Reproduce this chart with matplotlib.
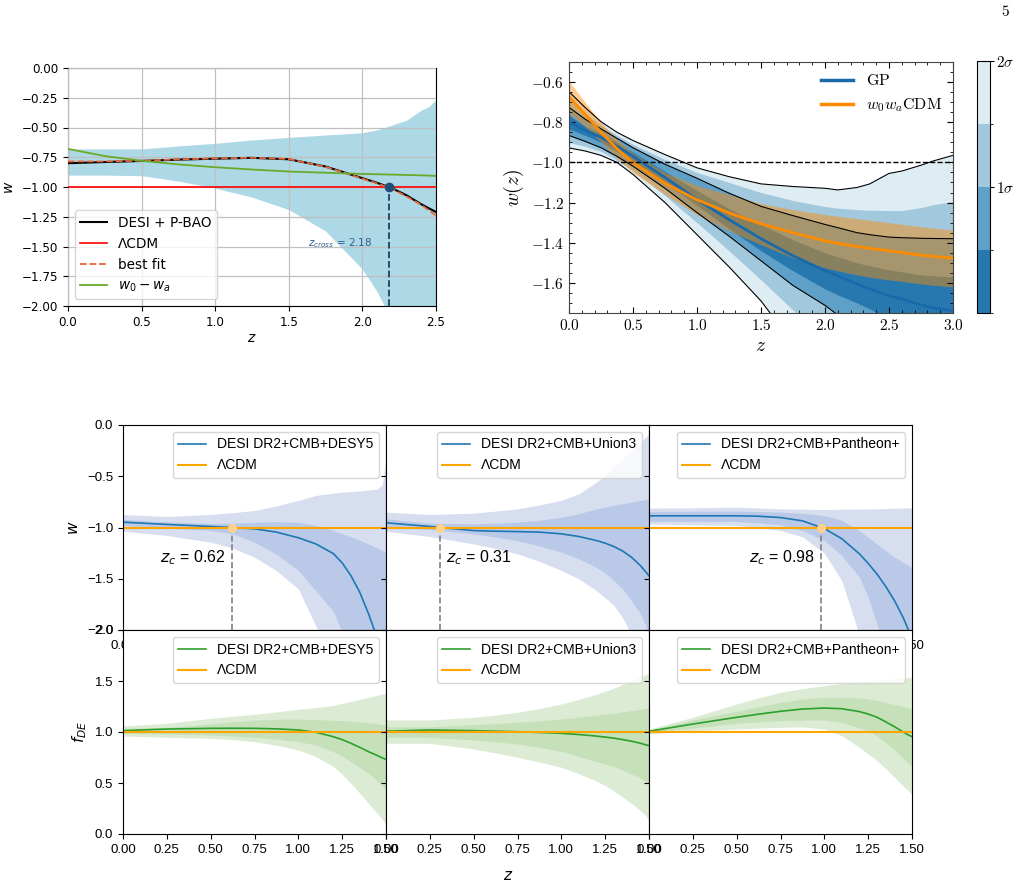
import numpy as np
import matplotlib
matplotlib.use('Agg')
import matplotlib.pyplot as plt
from matplotlib.colors import ListedColormap, BoundaryNorm
from matplotlib.cm import ScalarMappable
from matplotlib.ticker import MultipleLocator, FuncFormatter

plt.rcParams['mathtext.fontset'] = 'cm'

# ---------------- top left: DESI + P-BAO reconstruction of w(z)
z_tl = [0, 0.25, 0.5, 0.75, 1.0, 1.25, 1.5, 1.75, 2.0, 2.1, 2.2, 2.3, 2.4, 2.45, 2.5]
band_up = [-0.68, -0.68, -0.68, -0.655, -0.633, -0.605, -0.583, -0.563, -0.544, -0.52, -0.48, -0.438, -0.354, -0.326, -0.265]
band_lo = [-0.90, -0.90, -0.905, -0.95, -1.01, -1.085, -1.19, -1.37, -1.69, -1.88, -2.12, -2.3, -2.45, -2.5, -2.55]
w_desi = [-0.80, -0.79, -0.781, -0.77, -0.762, -0.755, -0.767, -0.828, -0.926, -0.965, -1.01, -1.07, -1.145, -1.178, -1.21]
w_best = [-0.785, -0.785, -0.779, -0.768, -0.76, -0.754, -0.765, -0.83, -0.93, -0.97, -1.015, -1.08, -1.15, -1.195, -1.24]
w_w0wa = [-0.68, -0.74, -0.78, -0.81, -0.834, -0.853, -0.87, -0.88, -0.89, -0.893, -0.896, -0.899, -0.902, -0.904, -0.907]
z_cross = 2.18

# ---------------- top right: GP vs w0waCDM
z_gp = [0, 0.125, 0.25, 0.375, 0.5, 0.75, 1.0, 1.25, 1.5, 1.75, 2.0, 2.1, 2.25, 2.35, 2.5, 2.6, 2.75, 2.85, 3.0]
gp_up2 = [-0.648, -0.726, -0.797, -0.85, -0.891, -0.961, -1.027, -1.071, -1.107, -1.12, -1.129, -1.137, -1.125, -1.107, -1.055, -1.043, -1.014, -0.992, -0.965]
gp_up15 = [-0.69, -0.755, -0.815, -0.865, -0.91, -0.985, -1.05, -1.10, -1.15, -1.19, -1.22, -1.228, -1.235, -1.238, -1.24, -1.24, -1.225, -1.21, -1.195]
gp_up1 = [-0.726, -0.784, -0.833, -0.88, -0.927, -1.009, -1.079, -1.153, -1.219, -1.265, -1.309, -1.325, -1.35, -1.36, -1.372, -1.375, -1.378, -1.379, -1.38]
gp_up05 = [-0.765, -0.82, -0.855, -0.90, -0.95, -1.045, -1.14, -1.23, -1.31, -1.385, -1.45, -1.47, -1.50, -1.515, -1.535, -1.545, -1.56, -1.565, -1.57]
gp_mean = [-0.80, -0.84, -0.875, -0.92, -0.97, -1.075, -1.185, -1.285, -1.38, -1.465, -1.54, -1.565, -1.605, -1.63, -1.665, -1.68, -1.71, -1.725, -1.74]
gp_lo05 = [-0.833, -0.865, -0.90, -0.945, -0.995, -1.10, -1.215, -1.33, -1.44, -1.54, -1.63, -1.66, -1.70, -1.73, -1.78, -1.80, -1.84, -1.86, -1.90]
gp_lo1 = [-0.866, -0.895, -0.927, -0.97, -1.019, -1.129, -1.25, -1.367, -1.49, -1.613, -1.712, -1.76, -1.83, -1.87, -1.94, -1.99, -2.06, -2.10, -2.17]
gp_lo15 = [-0.90, -0.92, -0.945, -0.99, -1.04, -1.165, -1.30, -1.44, -1.585, -1.735, -1.88, -1.94, -2.03, -2.08, -2.16, -2.21, -2.28, -2.32, -2.4]
gp_lo2 = [-0.928, -0.943, -0.965, -1.0, -1.06, -1.20, -1.36, -1.52, -1.69, -1.90, -2.05, -2.12, -2.2, -2.26, -2.35, -2.4, -2.5, -2.56, -2.65]
wcdm_mean = [-0.674, -0.76, -0.85, -0.932, -1.002, -1.104, -1.186, -1.252, -1.306, -1.35, -1.391, -1.403, -1.419, -1.428, -1.44, -1.449, -1.462, -1.468, -1.477]
wcdm_up = [-0.595, -0.70, -0.80, -0.885, -0.955, -1.05, -1.115, -1.16, -1.205, -1.235, -1.26, -1.268, -1.28, -1.288, -1.30, -1.308, -1.32, -1.327, -1.337]
wcdm_lo = [-0.755, -0.82, -0.90, -0.98, -1.05, -1.16, -1.26, -1.34, -1.41, -1.475, -1.525, -1.54, -1.56, -1.572, -1.585, -1.593, -1.605, -1.612, -1.62]
sigma_levels = [0, 0.5, 1, 1.5, 2]

# ---------------- bottom: three SN combinations, w(z) and f_DE(z)
z_b = [0, 0.25, 0.5, 0.625, 0.75, 0.875, 1.0, 1.1, 1.2, 1.25, 1.3, 1.35, 1.4, 1.45, 1.48, 1.5]
datasets = ['DESI DR2+CMB+DESY5', 'DESI DR2+CMB+Union3', 'DESI DR2+CMB+Pantheon+']
z_c = [0.62, 0.31, 0.98]

w_mid = [
    [-0.948, -0.97, -0.99, -1.0, -1.013, -1.045, -1.10, -1.16, -1.255, -1.345, -1.47, -1.63, -1.84, -2.08, -2.25, -2.35],
    [-0.954, -0.99, -1.03, -1.036, -1.04, -1.045, -1.062, -1.088, -1.127, -1.153, -1.186, -1.23, -1.29, -1.37, -1.43, -1.47],
    [-0.886, -0.886, -0.886, -0.89, -0.903, -0.935, -1.01, -1.11, -1.257, -1.35, -1.453, -1.575, -1.713, -1.88, -2.0, -2.08],
]
w_up2 = [
    [-0.873, -0.893, -0.873, -0.855, -0.834, -0.79, -0.736, -0.687, -0.665, -0.655, -0.65, -0.643, -0.635, -0.625, -0.58, -0.32],
    [-0.85, -0.873, -0.86, -0.84, -0.818, -0.78, -0.736, -0.671, -0.557, -0.49, -0.41, -0.33, -0.248, -0.17, -0.12, -0.085],
    [-0.811, -0.808, -0.801, -0.81, -0.818, -0.822, -0.824, -0.822, -0.82, -0.819, -0.818, -0.815, -0.812, -0.81, -0.809, -0.808],
]
w_lo2 = [
    [-1.036, -1.078, -1.143, -1.20, -1.29, -1.42, -1.60, -1.96, -2.35, -2.5, -2.65, -2.8, -2.9, -3.0, -3.0, -3.0],
    [-1.036, -1.088, -1.16, -1.205, -1.257, -1.33, -1.42, -1.50, -1.616, -1.685, -1.76, -1.88, -2.05, -2.2, -2.3, -2.4],
    [-0.964, -0.974, -0.98, -1.0, -1.03, -1.09, -1.25, -1.52, -2.05, -2.3, -2.5, -2.6, -2.8, -2.9, -3.0, -3.0],
]
w_up1 = [
    [-0.92, -0.945, -0.96, -0.958, -0.95, -0.943, -0.95, -0.98, -1.03, -1.06, -1.09, -1.125, -1.16, -1.20, -1.225, -1.24],
    [-0.915, -0.958, -0.964, -0.958, -0.948, -0.93, -0.9, -0.866, -0.818, -0.80, -0.785, -0.768, -0.752, -0.737, -0.727, -0.72],
    [-0.844, -0.842, -0.84, -0.845, -0.85, -0.862, -0.883, -0.93, -1.03, -1.095, -1.16, -1.225, -1.29, -1.34, -1.37, -1.388],
]
w_lo1 = [
    [-0.98, -1.003, -1.03, -1.06, -1.143, -1.26, -1.42, -1.616, -1.82, -2.02, -2.2, -2.4, -2.5, -2.6, -2.65, -2.7],
    [-0.987, -1.02, -1.062, -1.092, -1.127, -1.18, -1.24, -1.306, -1.388, -1.445, -1.518, -1.60, -1.713, -1.84, -1.95, -2.05],
    [-0.938, -0.94, -0.941, -0.955, -0.974, -1.03, -1.127, -1.274, -1.485, -1.68, -1.94, -2.2, -2.4, -2.6, -2.7, -2.8],
]
f_mid = [
    [1.013, 1.029, 1.036, 1.037, 1.036, 1.031, 1.02, 0.997, 0.954, 0.925, 0.889, 0.85, 0.807, 0.77, 0.745, 0.732],
    [1.007, 1.02, 1.013, 1.008, 1.003, 0.995, 0.987, 0.975, 0.96, 0.95, 0.94, 0.925, 0.91, 0.89, 0.875, 0.866],
    [1.007, 1.078, 1.144, 1.175, 1.203, 1.225, 1.235, 1.228, 1.20, 1.176, 1.145, 1.10, 1.052, 1.0, 0.97, 0.954],
]
f_up2 = [
    [1.059, 1.085, 1.134, 1.155, 1.173, 1.198, 1.222, 1.24, 1.26, 1.281, 1.30, 1.32, 1.34, 1.36, 1.372, 1.379],
    [1.118, 1.118, 1.144, 1.166, 1.193, 1.23, 1.275, 1.32, 1.37, 1.40, 1.43, 1.465, 1.50, 1.54, 1.56, 1.575],
    [1.029, 1.144, 1.275, 1.335, 1.389, 1.425, 1.454, 1.475, 1.492, 1.50, 1.508, 1.515, 1.522, 1.53, 1.534, 1.536],
]
f_lo2 = [
    [0.961, 0.948, 0.938, 0.925, 0.905, 0.87, 0.824, 0.758, 0.66, 0.585, 0.497, 0.40, 0.30, 0.20, 0.14, 0.098],
    [0.889, 0.889, 0.833, 0.795, 0.752, 0.705, 0.654, 0.59, 0.52, 0.475, 0.42, 0.36, 0.30, 0.23, 0.18, 0.137],
    [0.98, 1.013, 1.029, 1.038, 1.046, 1.05, 1.029, 0.964, 0.85, 0.784, 0.72, 0.64, 0.556, 0.47, 0.42, 0.386],
]
f_up1 = [
    [1.036, 1.046, 1.078, 1.10, 1.118, 1.125, 1.127, 1.122, 1.115, 1.111, 1.105, 1.098, 1.09, 1.08, 1.073, 1.069],
    [1.052, 1.052, 1.072, 1.083, 1.095, 1.11, 1.127, 1.145, 1.165, 1.175, 1.185, 1.197, 1.21, 1.222, 1.23, 1.235],
    [1.02, 1.118, 1.203, 1.248, 1.291, 1.322, 1.34, 1.34, 1.335, 1.325, 1.31, 1.29, 1.27, 1.25, 1.24, 1.235],
]
f_lo1 = [
    [0.987, 0.98, 0.971, 0.962, 0.948, 0.93, 0.905, 0.873, 0.807, 0.762, 0.709, 0.655, 0.595, 0.52, 0.47, 0.431],
    [0.948, 0.948, 0.922, 0.903, 0.882, 0.848, 0.81, 0.76, 0.71, 0.685, 0.66, 0.625, 0.59, 0.55, 0.515, 0.49],
    [0.993, 1.039, 1.085, 1.10, 1.111, 1.117, 1.118, 1.095, 1.04, 1.013, 0.96, 0.895, 0.824, 0.74, 0.69, 0.66],
]

W, H = 1019, 890
fig = plt.figure(figsize=(W / 100, H / 100), dpi=100)


def px_axes(x0, y0, x1, y1):
    # axes placed by pixel box on the page
    return fig.add_axes([x0 / W, 1 - y1 / H, (x1 - x0) / W, (y1 - y0) / H])


SANS_MATH = 'dejavusans'

# ===== top left
ax = px_axes(68, 68, 436, 306)
ax.fill_between(z_tl, band_lo, band_up, color='lightblue', lw=0)
ax.plot(z_tl, w_desi, color='black', lw=1.5, label='DESI + P-BAO', zorder=3)
ax.axhline(-1, color='red', lw=1.2, label='ΛCDM', zorder=3)
ax.plot(z_tl, w_best, '--', color='#e8663a', lw=1.3, label='best fit', zorder=3)
ax.plot(z_tl, w_w0wa, color='#6aaa2a', lw=1.3, label='$w_0 - w_a$', zorder=3)
ax.vlines(z_cross, -2.0, -1.0, colors='#1f3f5f', linestyles='--', lw=1.3, zorder=3)
ax.plot(z_cross, -1.0, 'o', color='#1f4e79', ms=6, zorder=4)
t = ax.text(1.63, -1.47, '$z_{cross}$ = 2.18', color='#2f5f8f', fontsize=7.5, va='center')
t.set_math_fontfamily(SANS_MATH)
ax.set_xlim(0, 2.5)
ax.set_ylim(-2.0, 0.0)
ax.set_xticks(np.arange(0, 2.51, 0.5))
ax.set_yticks(np.arange(-2.0, 0.01, 0.25))
ax.set_axisbelow(False)
ax.grid(color='#c0c0c0', lw=0.9)
ax.tick_params(labelsize=8.6)
xl = ax.set_xlabel('$z$', fontsize=10, labelpad=2)
yl = ax.set_ylabel('$w$', fontsize=10)
xl.set_math_fontfamily(SANS_MATH)
yl.set_math_fontfamily(SANS_MATH)
leg = ax.legend(loc='lower left', fontsize=9.8)
for tx in leg.get_texts():
    tx.set_math_fontfamily(SANS_MATH)

# ===== top right
ax2 = px_axes(569, 62, 953, 313)
blues = ['#deecf3', '#a2c8dd', '#5fa0c8', '#2878b0']
ax2.fill_between(z_gp, gp_lo2, gp_up2, color=blues[0], lw=0)
ax2.fill_between(z_gp, gp_lo15, gp_up15, color=blues[1], lw=0)
ax2.fill_between(z_gp, gp_lo1, gp_up1, color=blues[2], lw=0)
ax2.fill_between(z_gp, gp_lo05, gp_up05, color=blues[3], lw=0)
for curve in [gp_up2, gp_lo2, gp_up1, gp_lo1]:
    ax2.plot(z_gp, curve, color='black', lw=0.8)
ax2.plot(z_gp, gp_mean, color='#1a6aab', lw=2, label=r'$\mathrm{GP}$')
ax2.fill_between(z_gp, wcdm_lo, wcdm_up, color='#ff8c00', alpha=0.45, lw=0)
ax2.plot(z_gp, wcdm_mean, color='#ff8c00', lw=2, label=r'$w_0w_a\mathrm{CDM}$')
ax2.axhline(-1, color='black', ls='--', lw=1)
ax2.set_xlim(0, 3)
ax2.set_ylim(-1.75, -0.5)
ax2.xaxis.set_major_locator(MultipleLocator(0.5))
ax2.xaxis.set_minor_locator(MultipleLocator(0.1))
ax2.yaxis.set_major_locator(MultipleLocator(0.2))
ax2.yaxis.set_minor_locator(MultipleLocator(0.05))
fmt = FuncFormatter(lambda v, p: '$%.1f$' % v)
ax2.xaxis.set_major_formatter(fmt)
ax2.yaxis.set_major_formatter(fmt)
ax2.tick_params(which='both', direction='in', top=True, right=True, labelsize=11)
ax2.tick_params(which='major', length=4)
ax2.tick_params(which='minor', length=2)
for s in ax2.spines.values():
    s.set_color('#444444')
ax2.set_xlabel('$z$', fontsize=14, labelpad=2)
ax2.set_ylabel('$w(z)$', fontsize=14)
leg2 = ax2.legend(loc='upper right', frameon=False, fontsize=11.5, borderaxespad=0.3)
for ln in leg2.get_lines():
    ln.set_linewidth(2.5)

cax = px_axes(977, 61, 990, 313)
cmap = ListedColormap(blues[::-1])
norm = BoundaryNorm(sigma_levels, cmap.N)
cb = fig.colorbar(ScalarMappable(norm=norm, cmap=cmap), cax=cax, ticks=[1, 2])
cb.set_ticklabels([r'$1\sigma$', r'$2\sigma$'])
cb.ax.tick_params(labelsize=11, length=3, width=0.8, pad=1)
cb.outline.set_linewidth(0.8)

fig.text(1005 / W, 1 - 12 / H, '$5$', fontsize=11, ha='center', va='center')

# ===== bottom grid
FAM = 'Liberation Sans'
col_w = 263
rows = []
for r in range(2):
    y0 = 425 if r == 0 else 630
    y1 = 630 if r == 0 else 834
    row = []
    for j in range(3):
        row.append(px_axes(123 + col_w * j, y0, 123 + col_w * (j + 1), y1))
    rows.append(row)

for j in range(3):
    a = rows[0][j]
    a.fill_between(z_b, w_lo2[j], w_up2[j], color='#d6def0', lw=0)
    a.fill_between(z_b, w_lo1[j], w_up1[j], color='#b9c9e7', lw=0)
    a.plot(z_b, w_mid[j], color='#1f77b4', lw=1.2, label=datasets[j])
    a.axhline(-1, color='#ffa500', lw=1.5, label='ΛCDM')
    a.vlines(z_c[j], -2.0, -1.0, colors='gray', linestyles='--', lw=1.2)
    a.plot(z_c[j], -1.0, 'o', color='#ffd28a', ms=5.5, zorder=5)
    if j == 1:
        t = a.text(z_c[j] + 0.03, -1.29, '$z_c$ = %.2f' % z_c[j], ha='left', va='center',
                   fontsize=11.5, family=FAM)
    else:
        t = a.text(z_c[j] - 0.035, -1.29, '$z_c$ = %.2f' % z_c[j], ha='right', va='center',
                   fontsize=11.5, family=FAM)
    t.set_math_fontfamily(SANS_MATH)
    a.set_xlim(0, 1.5)
    a.set_ylim(-2.0, 0.0)
    a.set_xticks(np.arange(0, 1.51, 0.25))
    a.set_yticks(np.arange(-2.0, 0.01, 0.5))
    a.tick_params(labelsize=9.5, labelfontfamily=FAM, labelleft=(j == 0))
    a.legend(loc='upper right', prop={'family': FAM, 'size': 10})
    if j == 0:
        lab = a.set_ylabel('$w$', fontsize=11)
        lab.set_math_fontfamily(SANS_MATH)

for j in range(3):
    a = rows[1][j]
    a.fill_between(z_b, f_lo2[j], f_up2[j], color='#dcecd4', lw=0)
    a.fill_between(z_b, f_lo1[j], f_up1[j], color='#c6e0ba', lw=0)
    a.plot(z_b, f_mid[j], color='#2ca02c', lw=1.2, label=datasets[j])
    a.axhline(1, color='#ffa500', lw=1.5, label='ΛCDM')
    a.set_xlim(0, 1.5)
    a.set_ylim(0.0, 2.0)
    a.set_xticks(np.arange(0, 1.51, 0.25))
    a.set_yticks(np.arange(0.0, 2.01, 0.5))
    a.tick_params(labelsize=9.5, labelfontfamily=FAM, labelleft=(j == 0))
    a.legend(loc='upper right', prop={'family': FAM, 'size': 10})
    if j == 0:
        lab = a.set_ylabel('$f_{DE}$', fontsize=11)
        lab.set_math_fontfamily(SANS_MATH)

zt = fig.text(508 / W, 1 - 875 / H, '$z$', fontsize=11, ha='center', va='center')
zt.set_math_fontfamily(SANS_MATH)

fig.savefig('out.png', dpi=100)
